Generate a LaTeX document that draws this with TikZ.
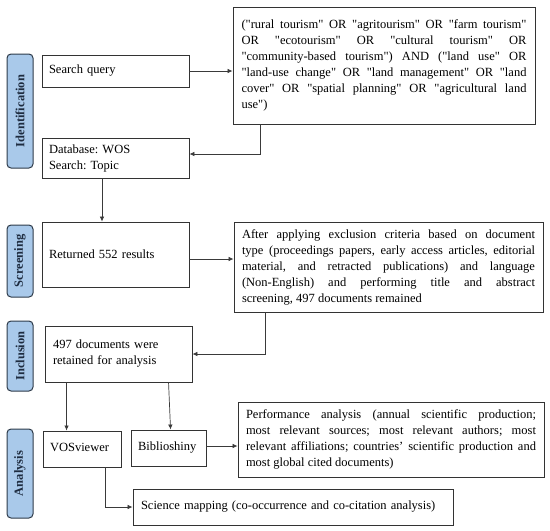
\documentclass[tikz,border=0pt]{standalone}
\usepackage{fontspec}
\defaultfontfeatures[\rmfamily]{}
\setmainfont{Liberation Serif}
\usetikzlibrary{arrows.meta,calc}
\definecolor{phasefill}{HTML}{A9C9EA}
\definecolor{phasedraw}{HTML}{2E3B4A}
\definecolor{phasetext}{HTML}{1E2C40}
\definecolor{boxdraw}{HTML}{333333}
\definecolor{arrcol}{HTML}{3A3A3A}
\tikzset{
  phase/.style={draw=phasedraw, fill=phasefill, line width=1pt, rounded corners=4pt,
    rotate=90, minimum height=26pt, inner sep=0pt, text=phasetext,
    font=\fontsize{12.5}{15}\selectfont\bfseries},
  box/.style={draw=boxdraw, line width=0.9pt, inner sep=0pt,
    font=\fontsize{12.5}{16}\selectfont\frenchspacing},
  arr/.style={draw=arrcol, line width=0.7pt, -{Latex[length=5pt,width=4.5pt]}},
}
\begin{document}
\begin{tikzpicture}[x=1pt,y=-1pt]
\useasboundingbox (0,0) rectangle (550,531);
% phases
\node[phase, minimum width=114pt] (pid) at (20,111) {Identification};
\node[phase, minimum width=72pt] (psc) at (20,261) {Screening};
\node[phase, minimum width=70pt] (pin) at (20,356) {Inclusion};
\node[phase, minimum width=89pt] (pan) at (20,473.5) {Analysis};
% boxes
\node[box, minimum width=147pt, minimum height=32pt, text width=133pt, align=left] (sq) at (115.5,71) {Search query};
\node[box, minimum width=302pt, minimum height=117pt, text width=285pt, align=justify] (qry) at (384,65.5)
{("rural tourism" OR "agritourism" OR "farm tourism"\linebreak
OR "ecotourism" OR "cultural tourism" OR\linebreak
"community-based tourism") AND ("land use" OR\linebreak
"land-use change" OR "land management" OR "land\linebreak
cover" OR "spatial planning" OR "agricultural land\linebreak
use")};
\node[box, minimum width=147pt, minimum height=40pt, text width=133pt, align=left] (db) at (115.5,158) {Database: WOS\\Search: Topic};
\node[box, minimum width=147pt, minimum height=65pt, text width=133pt, align=left] (ret) at (115.5,254.5) {Returned 552 results};
\node[box, minimum width=309pt, minimum height=90pt, text width=293pt, align=justify] (exc) at (388.5,267)
{After applying exclusion criteria based on document\linebreak
type (proceedings papers, early access articles, editorial\linebreak
material, and retracted publications) and language\linebreak
(Non-English) and performing title and abstract\linebreak
screening, 497 documents remained};
\node[box, minimum width=147pt, minimum height=56pt, text width=131pt, align=left] (inc) at (118.5,354) {497 documents were\\retained for analysis};
\node[box, minimum width=78pt, minimum height=36pt, text width=64pt, align=left] (vos) at (82,449) {VOSviewer\vphantom{y}\\[-4pt]};
\node[box, minimum width=75pt, minimum height=36pt, text width=61pt, align=left] (bib) at (168.5,448) {Biblioshiny\\[-4pt]};
\node[box, minimum width=306pt, minimum height=75pt, text width=290pt, align=justify] (perf) at (391,439.5)
{Performance analysis (annual scientific production;\linebreak
most relevant sources; most relevant authors; most\linebreak
relevant affiliations; countries’ scientific production and\linebreak
most global cited documents)};
\node[box, minimum width=320pt, minimum height=36pt, text width=304pt, align=left] (sci) at (293,507) {Science mapping (co-occurrence and co-citation analysis)};
% connectors
\draw[arr] (sq.east) -- (sq.east -| qry.west);
\draw[arr] ([xshift=28pt]qry.south west) |- ([yshift=4pt]db.east);
\draw[arr] ([xshift=-13.5pt]db.south) -- ([xshift=-13.5pt]ret.north);
\draw[arr] ([yshift=-4.5pt]ret.east) -- ([yshift=-4.5pt]ret.east -| exc.west);
\draw[arr] ([xshift=32pt]exc.south west) |- (inc.east);
\draw[arr] ([xshift=22pt]inc.south west) -- ([xshift=24pt]vos.north west);
\draw[arr] ([xshift=124pt]inc.south west) -- ([xshift=40pt]bib.north west);
\draw[arr] ([yshift=2pt]bib.east) -- ([yshift=2pt]bib.east -| perf.west);
\draw[arr] ([xshift=63pt]vos.south west) |- (sci.west);
\end{tikzpicture}
\end{document}
